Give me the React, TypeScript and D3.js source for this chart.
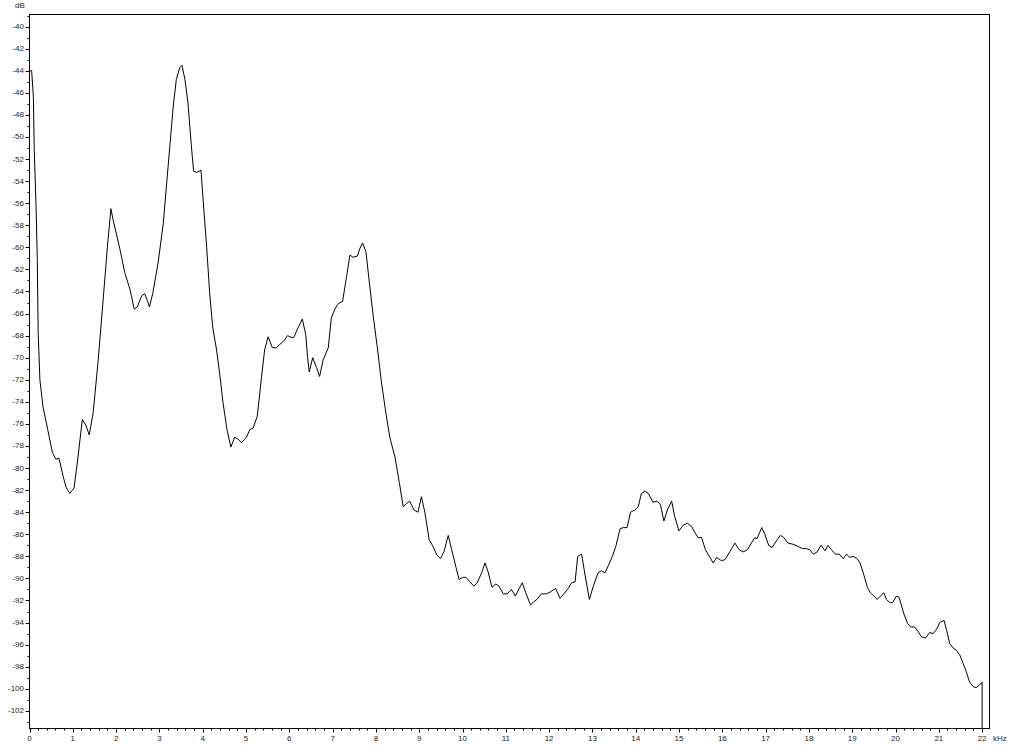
import React from "react";
import * as d3 from "d3";

const freqKHz: number[] = [
  0, 0.05, 0.09, 0.11, 0.15, 0.18, 0.2, 0.24, 0.31, 0.42, 0.53, 0.61, 0.68, 0.78, 0.85, 0.93,
  1.03, 1.12, 1.22, 1.3, 1.38, 1.47, 1.58, 1.7, 1.8, 1.88, 1.93, 2.09, 2.2, 2.32, 2.42, 2.49,
  2.59, 2.66, 2.72, 2.77, 2.85, 2.97, 3.09, 3.2, 3.32, 3.39, 3.47, 3.52, 3.59, 3.66, 3.74,
  3.79, 3.86, 3.92, 3.96, 4.01, 4.09, 4.16, 4.23, 4.32, 4.39, 4.47, 4.56, 4.65, 4.74, 4.82,
  4.9, 5.01, 5.09, 5.16, 5.26, 5.36, 5.43, 5.51, 5.61, 5.7, 5.78, 5.87, 5.96, 6.01, 6.1, 6.2,
  6.3, 6.38, 6.42, 6.46, 6.54, 6.63, 6.7, 6.78, 6.9, 6.97, 7.05, 7.13, 7.23, 7.32, 7.4, 7.47,
  7.57, 7.63, 7.69, 7.77, 7.86, 7.94, 8.03, 8.13, 8.23, 8.32, 8.44, 8.54, 8.63, 8.71, 8.78,
  8.88, 8.97, 9.05, 9.13, 9.23, 9.32, 9.41, 9.49, 9.57, 9.67, 9.75, 9.85, 9.92, 10.0, 10.08,
  10.17, 10.26, 10.34, 10.44, 10.52, 10.59, 10.68, 10.77, 10.84, 10.94, 11.03, 11.13, 11.22,
  11.31, 11.38, 11.46, 11.57, 11.65, 11.72, 11.82, 11.94, 12.04, 12.15, 12.25, 12.34, 12.44,
  12.52, 12.6, 12.66, 12.75, 12.83, 12.93, 13.02, 13.13, 13.21, 13.29, 13.36, 13.46, 13.54,
  13.64, 13.71, 13.8, 13.88, 13.98, 14.06, 14.13, 14.21, 14.29, 14.4, 14.49, 14.57, 14.65,
  14.73, 14.83, 14.9, 15.0, 15.09, 15.19, 15.29, 15.36, 15.44, 15.52, 15.61, 15.7, 15.79,
  15.87, 15.98, 16.06, 16.17, 16.29, 16.39, 16.48, 16.58, 16.67, 16.75, 16.8, 16.91, 16.98,
  17.07, 17.15, 17.25, 17.34, 17.42, 17.52, 17.63, 17.75, 17.85, 17.94, 18.02, 18.1, 18.19,
  18.28, 18.37, 18.44, 18.52, 18.61, 18.7, 18.79, 18.87, 18.94, 19.02, 19.11, 19.18, 19.27,
  19.35, 19.42, 19.5, 19.58, 19.65, 19.73, 19.79, 19.87, 19.93, 20.02, 20.08, 20.14, 20.2,
  20.28, 20.35, 20.44, 20.52, 20.6, 20.69, 20.79, 20.87, 20.95, 21.02, 21.12, 21.18, 21.25,
  21.33, 21.4, 21.48, 21.56, 21.63, 21.71, 21.79, 21.86, 21.93, 22.0, 22.0,
];

const levelDb: number[] = [
  -44, -44, -46.4, -51.2, -56.1, -61.1, -67.7, -72, -74.4, -76.5, -78.6, -79.2, -79.1, -80.8, -81.8, -82.3,
  -81.8, -79, -75.6, -76.1, -77, -75, -70.5, -64.8, -59.9, -56.5, -57.5, -60.2, -62.3, -63.8, -65.6, -65.4,
  -64.4, -64.2, -64.8, -65.4, -64.1, -61.4, -57.8, -52.7, -47.2, -44.8, -43.7, -43.5, -44.8, -46.9, -50.9,
  -53.1, -53.2, -53.1, -53.0, -55.7, -59.9, -64.1, -67.2, -69.3, -71.4, -74.1, -76.5, -78.1, -77.2, -77.4,
  -77.7, -77.2, -76.5, -76.4, -75.3, -71.7, -69.3, -68.1, -69.1, -69.1, -68.8, -68.5, -68.0, -68.1, -68.2, -67.3,
  -66.5, -67.9, -69.9, -71.3, -70.0, -70.9, -71.7, -70.2, -69.1, -66.4, -65.6, -65.1, -64.9, -62.7, -60.7, -60.9,
  -60.8, -60.1, -59.6, -60.4, -63.6, -66.3, -69.0, -72.3, -75.0, -77.2, -79.0, -81.3, -83.5, -83.2, -83.0,
  -83.8, -84.0, -82.6, -84.0, -86.5, -87.1, -87.9, -88.2, -87.6, -86.1, -87.4, -89.0, -90.1, -89.9, -89.9,
  -90.3, -90.7, -90.4, -89.5, -88.6, -89.4, -90.8, -90.5, -90.7, -91.4, -91.4, -91.0, -91.6,
  -90.9, -90.4, -91.3, -92.4, -92.1, -91.9, -91.4, -91.4, -91.2, -90.9, -91.8, -91.4, -90.9,
  -90.4, -90.3, -88.0, -87.8, -89.7, -91.9, -90.7, -89.5, -89.3, -89.5, -88.9, -88.0, -87.1,
  -85.5, -85.4, -85.4, -84.0, -83.8, -83.5, -82.3, -82.1, -82.3, -83.1, -83.0, -83.3, -84.8,
  -83.8, -83.0, -84.4, -85.7, -85.2, -85.0, -85.3, -85.8, -86.3, -86.3, -87.4, -88.0, -88.6,
  -88.1, -88.4, -88.3, -87.6, -86.8, -87.4, -87.6, -87.4, -86.8, -86.3, -86.4, -85.4, -86.0,
  -87.0, -87.2, -86.6, -86.1, -86.3, -86.8, -86.9, -87.1, -87.3, -87.3, -87.4, -87.8, -87.6,
  -87.0, -87.5, -87.0, -87.4, -87.8, -87.8, -88.2, -87.8, -88.1, -88.0, -88.2, -88.6, -89.7,
  -90.8, -91.3, -91.6, -91.9, -91.6, -91.3, -91.9, -92.2, -92.2, -91.6, -91.7, -92.5, -93.3,
  -94.1, -94.4, -94.4, -94.8, -95.3, -95.4, -94.9, -95.0, -94.6, -94.0, -93.8, -94.7, -95.9,
  -96.3, -96.5, -96.9, -97.7, -98.4, -99.4, -99.8, -99.9, -99.7, -99.4, -104,
];

const xTickValues: number[] = d3.range(0, 23, 1);
const yTickValues: number[] = d3.range(-40, -103, -2);
const xUnitLabel = "kHz";
const yUnitLabel = "dB";

const W = 1024;
const H = 745;
const left = 29.5;
const right = 989.5;
const top = 14.5;
const bottom = 728.5;

export default function App() {
  const x = d3.scaleLinear().domain([0, 22.17]).range([left, right]);
  const y = d3.scaleLinear().domain([-38.9, -103.6]).range([top, bottom]);

  const data = freqKHz.map((f, i) => ({ f, v: levelDb[i] }));
  const line = d3
    .line<{ f: number; v: number }>()
    .x((d) => x(d.f))
    .y((d) => y(d.v))
    .curve(d3.curveLinear);

  const xMinor = d3.range(0, 22.01, 0.2).filter((v) => Math.abs(v - Math.round(v)) > 1e-6);
  const yMinor = d3.range(-39, -104, -1).filter((v) => v % 2 !== 0);

  const font = "'Liberation Sans', Arial, sans-serif";

  return (
    <div style={{ position: "absolute", left: 0, top: 0 }}>
      <svg width={W} height={H} style={{ display: "block", background: "#fff" }}>
        <defs>
          <clipPath id="plotclip">
            <rect x={left} y={top} width={right - left} height={bottom - top} />
          </clipPath>
        </defs>
        <rect x={0} y={0} width={W} height={H} fill="#fff" />
        <rect
          x={left}
          y={top}
          width={right - left}
          height={bottom - top}
          fill="none"
          stroke="#000"
          strokeWidth={1}
        />
        {/* y ticks */}
        {yTickValues.map((v) => (
          <g key={"yt" + v}>
            <line x1={left - 4} x2={left} y1={Math.round(y(v)) + 0.5} y2={Math.round(y(v)) + 0.5} stroke="#000" />
            <text
              x={24}
              y={y(v)}
              textAnchor="end"
              dominantBaseline="central"
              fontFamily={font}
              fontSize={8}
              fill="#222"
            >
              {v}
            </text>
          </g>
        ))}
        {yMinor.map((v) => (
          <line key={"ym" + v} x1={left - 2} x2={left} y1={Math.round(y(v)) + 0.5} y2={Math.round(y(v)) + 0.5} stroke="#000" />
        ))}
        {/* x ticks */}
        {xTickValues.map((v) => (
          <g key={"xt" + v}>
            <line x1={Math.round(x(v)) + 0.5} x2={Math.round(x(v)) + 0.5} y1={bottom} y2={bottom + 4} stroke="#000" />
            <text
              x={x(v)}
              y={741}
              textAnchor="middle"
              fontFamily={font}
              fontSize={8}
              fill="#222"
            >
              {v}
            </text>
          </g>
        ))}
        {xMinor.map((v, i) => (
          <line key={"xm" + i} x1={Math.round(x(v)) + 0.5} x2={Math.round(x(v)) + 0.5} y1={bottom} y2={bottom + 2} stroke="#000" />
        ))}
        <text x={993} y={741} fontFamily={font} fontSize={8} fill="#222">
          {xUnitLabel}
        </text>
        <text x={15} y={8} fontFamily={font} fontSize={8} fill="#222">
          {yUnitLabel}
        </text>
        <path d={line(data) || ""} fill="none" stroke="#000" strokeWidth={1} clipPath="url(#plotclip)" />
      </svg>
    </div>
  );
}
